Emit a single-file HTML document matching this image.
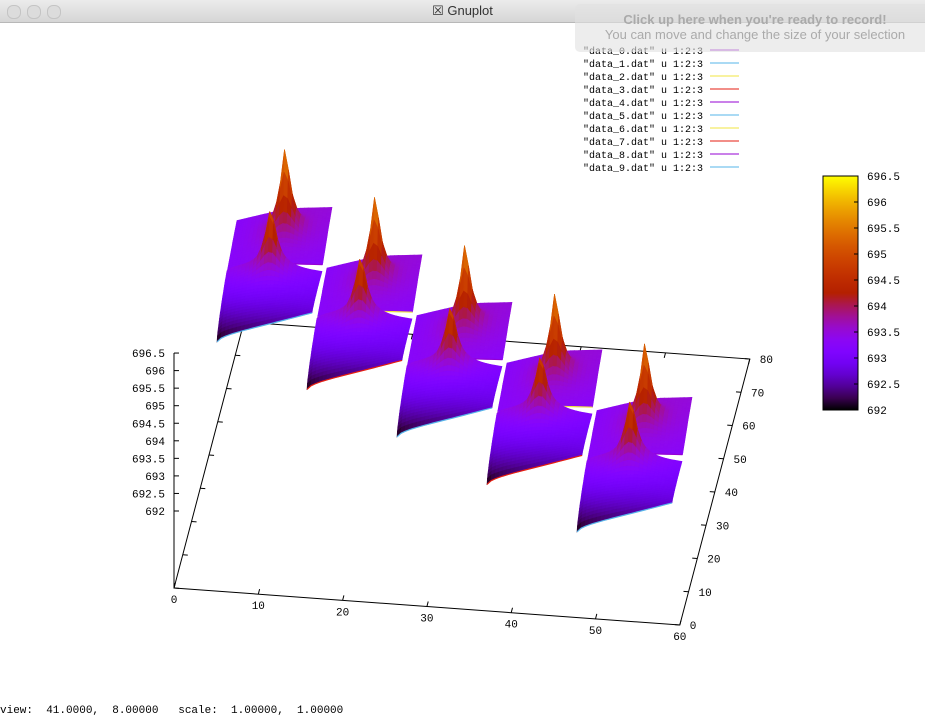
<!DOCTYPE html>
<html><head><meta charset="utf-8"><style>
body{margin:0;width:925px;height:716px;overflow:hidden;background:#fff;font-family:"Liberation Sans",sans-serif}
#title{position:absolute;left:0;top:0;width:925px;height:22px;background:linear-gradient(#ececec,#d6d6d6);border-bottom:1px solid #b8b8b8;text-align:center;font-size:13px;line-height:22px;color:#333}
.dot{position:absolute;top:5px;width:12px;height:12px;border-radius:6px;background:#dcdcdc;border:1px solid #c4c4c4}
#overlay{position:absolute;left:575px;top:4px;width:360px;height:48px;background:rgba(225,225,225,0.6);border-radius:5px;text-align:center;color:#aaa;font-size:13px}
#status{position:absolute;left:0;top:705px;font-family:"Liberation Mono",monospace;font-size:11px;color:#000}
svg text{font-family:"Liberation Mono",monospace;font-size:11px}
svg text.lg{font-size:10px}
</style></head><body>
<div id="title">
<span class="dot" style="left:7px"></span>
<span class="dot" style="left:27px"></span>
<span class="dot" style="left:47px"></span>
<span>☒ Gnuplot</span></div>
<svg id="plot" width="925" height="716" style="position:absolute;left:0;top:0"></svg>
<div id="overlay"><div style="font-weight:bold;margin-top:8px">Click up here when you're ready to record!</div><div>You can move and change the size of your selection</div></div>
<div id="status">view:&nbsp; 41.0000,&nbsp; 8.00000&nbsp;&nbsp; scale:&nbsp; 1.00000,&nbsp; 1.00000</div>
<script>
const peakFront=[695.43,695.42,695.35,695.28,695.41];
const peakBack=[696.09,696.08,696.06,696.02,695.95];
const zTicks=[692,692.5,693,693.5,694,694.5,695,695.5,696,696.5];
const xTicks=[0,10,20,30,40,50,60];
const yTicks=[0,10,20,30,40,50,60,70,80];
const legendLabels=["data_0.dat","data_1.dat","data_2.dat","data_3.dat","data_4.dat","data_5.dat","data_6.dat","data_7.dat","data_8.dat","data_9.dat"];
const lineColors=["#9400d3","#56b4e9","#f0e442","#e51e10"];
const NS="http://www.w3.org/2000/svg";
const svg=document.getElementById('plot');
function mk(t,a){const e=document.createElementNS(NS,t);for(const k in a)e.setAttribute(k,a[k]);svg.appendChild(e);return e;}
function pal(z){let x=(z-692)/4.5;x=Math.max(0,Math.min(1,x));
 const r=Math.sqrt(x),g=x*x*x,b=Math.max(0,Math.sin(2*Math.PI*x));
 return `rgb(${Math.round(r*255)},${Math.round(g*255)},${Math.round(b*255)})`;}
const O=[174,588],EX=[8.43,0.617],EY=[0.875,-3.325];
function P(x,y){return [O[0]+x*EX[0]+y*EY[0],O[1]+x*EX[1]+y*EY[1]];}
function zY(z){return 511-(z-692)*35.1;}
const c0=P(0,0),c1=P(60,0),c2=P(60,80),c3=P(0,80);
const fr=mk('polygon',{points:[c0,c1,c2,c3].map(p=>p.join(',')).join(' '),fill:'none',stroke:'#000','stroke-width':1});

const za=mk('line',{x1:174,y1:588,x2:174,y2:zY(696.5),stroke:'#000'});

zTicks.forEach(z=>{const y=zY(z);mk('line',{x1:174,y1:y,x2:179,y2:y,stroke:'#000'});
 const t=mk('text',{x:165,y:y+4,'text-anchor':'end'});t.textContent=z;
 });
xTicks.forEach(x=>{const p=P(x,0),q=P(x,80);
 mk('line',{x1:p[0],y1:p[1],x2:p[0]+EY[0]*1.5,y2:p[1]+EY[1]*1.5,stroke:'#000'});
 mk('line',{x1:q[0],y1:q[1],x2:q[0]-EY[0]*1.5,y2:q[1]-EY[1]*1.5,stroke:'#000'});
 const t=mk('text',{x:p[0],y:p[1]+15,'text-anchor':'middle'});t.textContent=x;
 });
yTicks.forEach(y=>{const p=P(60,y),q=P(0,y);
 mk('line',{x1:p[0],y1:p[1],x2:p[0]-EX[0]*0.6,y2:p[1]-EX[1]*0.6,stroke:'#000'});
 mk('line',{x1:q[0],y1:q[1],x2:q[0]+EX[0]*0.6,y2:q[1]+EX[1]*0.6,stroke:'#000'});
 const t=mk('text',{x:p[0]+10,y:p[1]+4,'text-anchor':'start'});t.textContent=y;
 });
const N=24;
function scr(c,u,v,z){
 const vy=v<=1?v*25:25+(v-1)*52;
 return [217+90*c+u*95+v*10, 342+47.5*c-u*4.5-vy-(z-692)*35];}
function surfZ(c,u,v,back){
 let base;
 if(back){base=693.26+0.02*u+0.22*u*(v-1.05)/0.95+0.06*Math.sin(Math.PI*u);}
 else{const a=0.7*Math.pow(u,0.6);base=692+a+(1.29-0.84*u)*Math.pow(v,0.7)-0.05*Math.sin(Math.PI*u)*(1-v);}
 const pu=back?0.55:0.47,pv=back?1.6:0.9;const pk=back?peakBack[c]:peakFront[c];
 const r=Math.sqrt((u-pu)*(u-pu)+((v-pv)*0.9)*((v-pv)*0.9));
 const s=Math.exp(-r/0.075);
 return base+(pk-base)*s+0.32*Math.exp(-r/0.2)*(1-s);}
for(let c=0;c<5;c++){
 [[true,1.05,2.0],[false,0,1]].forEach(([back,v0,v1],ti)=>{
  const g=mk('g',{});
  
  
  for(let j=N-1;j>=0;j--){for(let i=0;i<N;i++){
   const ua=i/N,ub=(i+1)/N,va=v0+(v1-v0)*j/N,vb=v0+(v1-v0)*(j+1)/N;
   const zs=[surfZ(c,ua,va,back),surfZ(c,ub,va,back),surfZ(c,ub,vb,back),surfZ(c,ua,vb,back)];
   const ps=[scr(c,ua,va,zs[0]),scr(c,ub,va,zs[1]),scr(c,ub,vb,zs[2]),scr(c,ua,vb,zs[3])];
   const zm=(zs[0]+zs[1]+zs[2]+zs[3])/4;const col=pal(zm);
   const p=document.createElementNS(NS,'polygon');
   p.setAttribute('points',ps.map(q=>q[0].toFixed(1)+','+q[1].toFixed(1)).join(' '));
   p.setAttribute('fill',col);p.setAttribute('stroke',col);p.setAttribute('stroke-width','0.6');
   g.appendChild(p);}}
  const e=[];for(let i=0;i<=N;i++){const u=i/N;e.push(scr(c,u,v0,surfZ(c,u,v0,back)));}
  const pl=document.createElementNS(NS,'polyline');
  pl.setAttribute('points',e.map(q=>q.join(',')).join(' '));
  pl.setAttribute('fill','none');pl.setAttribute('stroke',lineColors[(c*2+ti)%4]);pl.setAttribute('stroke-width','1.2');
  g.appendChild(pl);
 });
}
legendLabels.forEach((l,i)=>{const y=54+i*13;
 const t=mk('text',{x:703,y:y,'text-anchor':'end','class':'lg'});t.textContent=`"${l}" u 1:2:3`;
 
 mk('line',{x1:710,y1:y-4,x2:739,y2:y-4,stroke:lineColors[i%4]});});
const defs=mk('defs',{});const lg=document.createElementNS(NS,'linearGradient');
lg.setAttribute('id','cb');lg.setAttribute('x1','0');lg.setAttribute('y1','1');lg.setAttribute('x2','0');lg.setAttribute('y2','0');
for(let k=0;k<=20;k++){const s=document.createElementNS(NS,'stop');s.setAttribute('offset',k/20);s.setAttribute('stop-color',pal(692+4.5*k/20));lg.appendChild(s);}
defs.appendChild(lg);
const cb=mk('rect',{x:823,y:176,width:35,height:234,fill:'url(#cb)',stroke:'#000'});

zTicks.forEach(z=>{const y=410-(z-692)/4.5*234;
 mk('line',{x1:858,y1:y,x2:854,y2:y,stroke:'#000'});
 const t=mk('text',{x:867,y:y+4});t.textContent=z;
 });
</script></body></html>
